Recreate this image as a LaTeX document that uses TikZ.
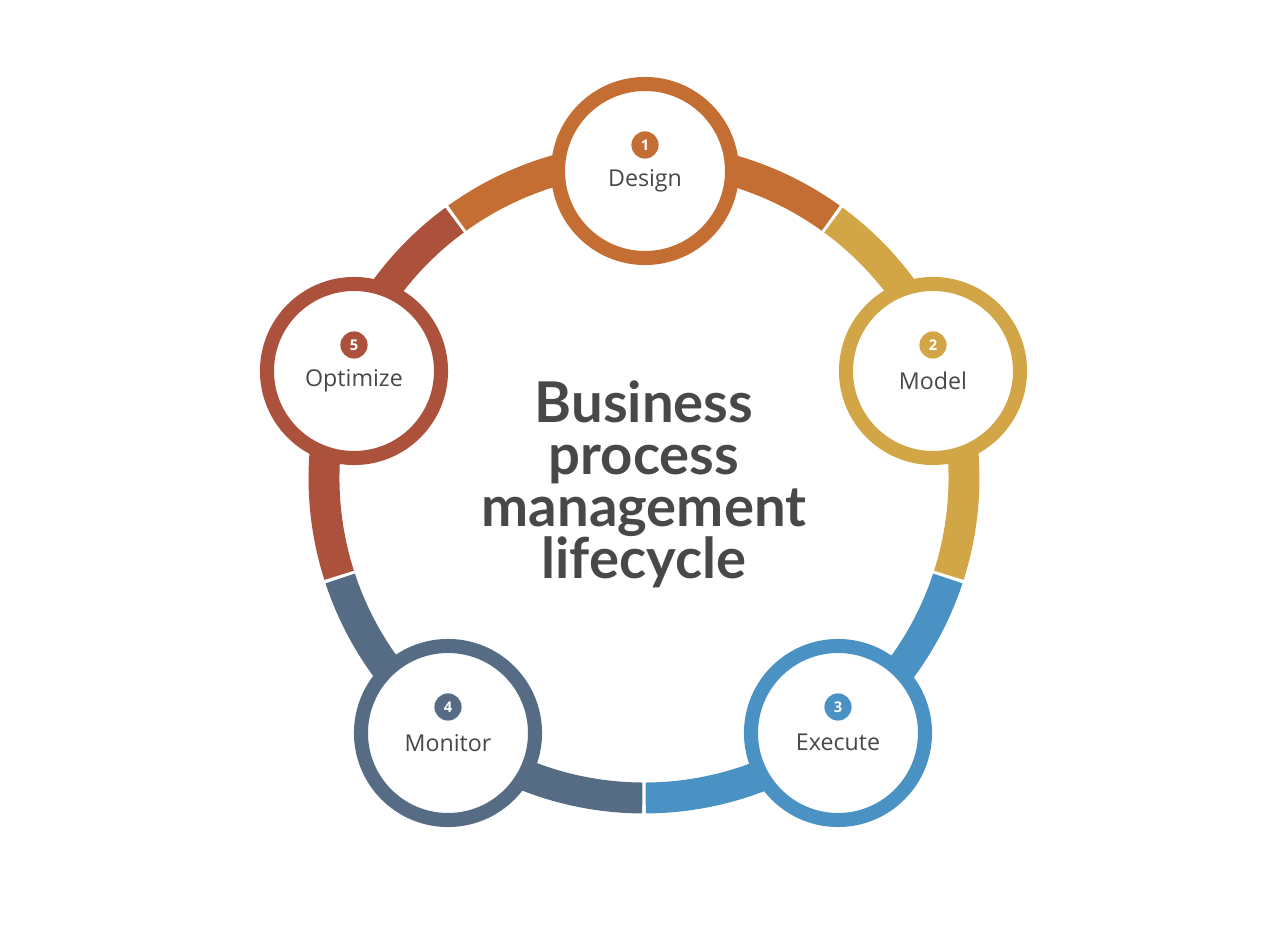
\documentclass[tikz,border=0pt]{standalone}
\usepackage{fontspec}
\setmainfont{Open Sans}
\newfontfamily\titlefont{Lato}
\usepackage{tikz}
\definecolor{bpmorange}{RGB}{197,110,52}
\definecolor{bpmgold}{RGB}{210,165,70}
\definecolor{bpmblue}{RGB}{74,146,196}
\definecolor{bpmslate}{RGB}{86,108,132}
\definecolor{bpmrust}{RGB}{172,82,60}
\definecolor{bpmgray}{RGB}{72,72,72}

\begin{document}
\begin{tikzpicture}[
      x=0.025cm, y=0.025cm,
      seg/.style={line width=22pt},
      stage/.style={circle, draw, fill=white, line width=10pt, minimum size=4.35cm, inner sep=0pt},
      badge/.style={circle, text=white, inner sep=0pt, minimum size=0.68cm, font=\bfseries\fontsize{10.5}{10.5}\selectfont},
      lbl/.style={text=bpmgray, font=\fontsize{16.5}{16.5}\selectfont}
    ]
      \useasboundingbox (-644,-448) rectangle (636,478);
      \coordinate (ctr) at (0,0);

      % ring segments, one per stage
      \draw[seg, bpmorange] ([shift={(54.3:320)}]ctr) arc[start angle=54.3, end angle=125.7, radius=320];
      \draw[seg, bpmgold] ([shift={(-17.7:320)}]ctr) arc[start angle=-17.7, end angle=53.7, radius=320];
      \draw[seg, bpmblue] ([shift={(-89.7:320)}]ctr) arc[start angle=-89.7, end angle=-18.3, radius=320];
      \draw[seg, bpmslate] ([shift={(-161.7:320)}]ctr) arc[start angle=-161.7, end angle=-90.3, radius=320];
      \draw[seg, bpmrust] ([shift={(126.3:320)}]ctr) arc[start angle=126.3, end angle=197.7, radius=320];

      % stage circles
      \node[stage, draw=bpmorange] (design) at (1,307) {};
      \node[stage, draw=bpmgold] (model) at (289,107) {};
      \node[stage, draw=bpmblue] (execute) at (194,-255) {};
      \node[stage, draw=bpmslate] (monitor) at (-196,-255) {};
      \node[stage, draw=bpmrust] (optimize) at (-290,107) {};

      \node[badge, fill=bpmorange] (num1) at ([yshift=0.65cm]design.center) {1};
      \node[lbl] (lbl1) at ([yshift=-0.24cm]design.center) {Design};

      \node[badge, fill=bpmgold] (num2) at ([yshift=0.65cm]model.center) {2};
      \node[lbl] (lbl2) at ([yshift=-0.24cm]model.center) {Model};

      \node[badge, fill=bpmblue] (num3) at ([yshift=0.65cm]execute.center) {3};
      \node[lbl] (lbl3) at ([yshift=-0.24cm]execute.center) {Execute};

      \node[badge, fill=bpmslate] (num4) at ([yshift=0.65cm]monitor.center) {4};
      \node[lbl] (lbl4) at ([yshift=-0.24cm]monitor.center) {Monitor};

      \node[badge, fill=bpmrust] (num5) at ([yshift=0.65cm]optimize.center) {5};
      \node[lbl] (lbl5) at ([yshift=-0.24cm]optimize.center) {Optimize};

      \node[align=center, text=bpmgray, font=\titlefont\bfseries\fontsize{40}{37}\selectfont] (title) at (0,-6) {Business\\process\\management\\lifecycle};
    \end{tikzpicture}
\end{document}
